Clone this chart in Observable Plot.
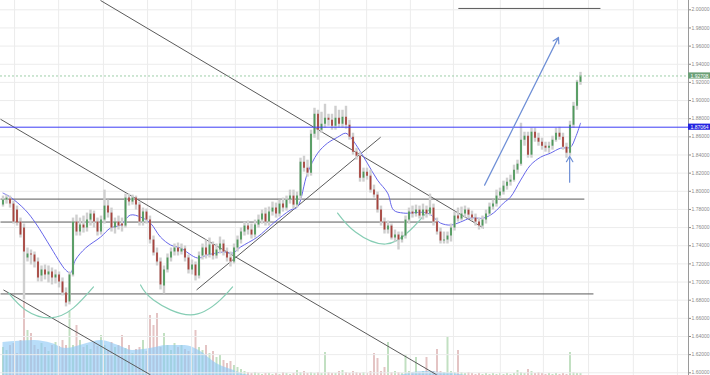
<!DOCTYPE html>
<html><head><meta charset="utf-8">
<script src="https://cdn.jsdelivr.net/npm/d3@7"></script>
<script src="https://cdn.jsdelivr.net/npm/@observablehq/plot@0.6"></script>
<style>
body{margin:0;background:#fff;}
#chart{position:relative;width:710px;height:375px;overflow:hidden;background:#fff;}
#chart svg{position:absolute;left:0;top:0;}
</style></head><body><div id="chart"></div>
<script>
// ---- candle data (one entry per bar) ----
const open = [
1.7848,1.7903,1.7914,1.7859,1.7793,1.7661,1.7595,1.7265,1.7309,1.7298,
1.7221,1.7067,1.7133,1.7078,1.7111,1.7045,1.7078,1.7001,1.6880,1.6781,
1.7078,1.7661,1.7551,1.7628,1.7595,1.7683,1.7749,1.7661,1.7551,1.7683,
1.7837,1.7760,1.7595,1.7661,1.7639,1.7617,1.7925,1.7881,1.7925,1.7848,
1.7661,1.7771,1.7683,1.7463,1.7320,1.7221,1.6957,1.7133,1.7265,1.7331,
1.7375,1.7331,1.7364,1.7265,1.7133,1.7188,1.7067,1.7287,1.7375,1.7298,
1.7408,1.7287,1.7353,1.7419,1.7331,1.7265,1.7221,1.7375,1.7463,1.7551,
1.7617,1.7573,1.7518,1.7628,1.7683,1.7749,1.7661,1.7771,1.7815,1.7749,
1.7859,1.7815,1.7903,1.7947,1.7848,1.7947,1.8321,1.8255,1.8200,1.8629,
1.8849,1.8673,1.8739,1.8805,1.8783,1.8717,1.8805,1.8739,1.8816,1.8728,
1.8596,1.8431,1.8387,1.8145,1.8211,1.8167,1.8013,1.7958,1.7793,1.7661,
1.7573,1.7617,1.7485,1.7518,1.7463,1.7507,1.7683,1.7771,1.7749,1.7793,
1.7727,1.7793,1.7749,1.7815,1.7661,1.7551,1.7452,1.7463,1.7507,1.7595,
1.7727,1.7694,1.7749,1.7793,1.7738,1.7705,1.7661,1.7617,1.7683,1.7749,
1.7826,1.7859,1.7947,1.7991,1.8057,1.8101,1.8123,1.8233,1.8299,1.8563,
1.8607,1.8398,1.8651,1.8585,1.8541,1.8497,1.8475,1.8497,1.8563,1.8640,
1.8596,1.8486,1.8420,1.8728,1.8937,1.9201];
const high = [
1.7947,1.7958,1.7947,1.7892,1.7837,1.7705,1.7639,1.7375,1.7353,1.7331,
1.7265,1.7177,1.7188,1.7177,1.7155,1.7133,1.7111,1.7045,1.6935,1.7111,
1.7705,1.7738,1.7705,1.7727,1.7760,1.7793,1.7782,1.7705,1.7727,1.8013,
1.7903,1.7815,1.7705,1.7727,1.7705,1.7969,1.7969,1.7958,1.7947,1.7881,
1.7815,1.7804,1.7727,1.7507,1.7375,1.7265,1.7177,1.7309,1.7375,1.7419,
1.7430,1.7419,1.7397,1.7298,1.7243,1.7221,1.7331,1.7419,1.7463,1.7485,
1.7441,1.7419,1.7496,1.7463,1.7375,1.7331,1.7419,1.7507,1.7595,1.7661,
1.7672,1.7639,1.7683,1.7738,1.7793,1.7815,1.7826,1.7881,1.7870,1.7903,
1.7925,1.7947,1.8013,1.8013,1.7991,1.8365,1.8387,1.8343,1.8673,1.8915,
1.8893,1.8871,1.8959,1.8849,1.8849,1.8937,1.8893,1.8893,1.8937,1.8783,
1.8640,1.8475,1.8431,1.8255,1.8255,1.8233,1.8068,1.7991,1.7837,1.7705,
1.7672,1.7639,1.7573,1.7551,1.7551,1.7727,1.7815,1.7837,1.7848,1.7837,
1.7859,1.7837,1.7969,1.7859,1.7705,1.7595,1.7551,1.7551,1.7639,1.7771,
1.7815,1.7826,1.7837,1.7815,1.7782,1.7749,1.7705,1.7727,1.7793,1.7870,
1.7903,1.8013,1.8035,1.8112,1.8145,1.8178,1.8288,1.8343,1.8750,1.8651,
1.8651,1.8695,1.8695,1.8640,1.8585,1.8541,1.8541,1.8607,1.8695,1.8706,
1.8640,1.8530,1.8772,1.8981,1.9223,1.9311];
const low = [
1.7826,1.7859,1.7815,1.7639,1.7617,1.7485,1.6803,1.7221,1.7188,1.7155,
1.7001,1.7001,1.7023,1.6990,1.6968,1.6979,1.6935,1.6847,1.6726,1.6748,
1.7056,1.7507,1.7507,1.7540,1.7551,1.7617,1.7595,1.7507,1.7518,1.7639,
1.7705,1.7551,1.7529,1.7573,1.7551,1.7595,1.7837,1.7848,1.7793,1.7617,
1.7617,1.7639,1.7419,1.7287,1.7177,1.6913,1.6869,1.7100,1.7221,1.7287,
1.7287,1.7298,1.7221,1.7089,1.7078,1.7012,1.7034,1.7243,1.7254,1.7265,
1.7243,1.7254,1.7309,1.7287,1.7221,1.7166,1.7199,1.7331,1.7419,1.7507,
1.7518,1.7474,1.7485,1.7595,1.7639,1.7617,1.7617,1.7727,1.7705,1.7716,
1.7771,1.7782,1.7859,1.7804,1.7815,1.7903,1.8211,1.8156,1.8167,1.8585,
1.8563,1.8640,1.8695,1.8717,1.8673,1.8673,1.8695,1.8695,1.8684,1.8563,
1.8398,1.8343,1.8101,1.8101,1.8123,1.7980,1.7925,1.7760,1.7617,1.7529,
1.7529,1.7463,1.7441,1.7353,1.7430,1.7474,1.7639,1.7705,1.7716,1.7694,
1.7683,1.7705,1.7727,1.7617,1.7518,1.7419,1.7419,1.7419,1.7441,1.7562,
1.7661,1.7672,1.7705,1.7694,1.7672,1.7617,1.7573,1.7584,1.7639,1.7727,
1.7793,1.7826,1.7914,1.7958,1.8013,1.8057,1.8101,1.8189,1.8277,1.8497,
1.8365,1.8365,1.8541,1.8497,1.8453,1.8431,1.8420,1.8453,1.8541,1.8563,
1.8453,1.8365,1.8387,1.8695,1.8893,1.9168];
const close = [
1.7903,1.7925,1.7859,1.7661,1.7650,1.7518,1.7331,1.7309,1.7298,1.7221,
1.7045,1.7133,1.7078,1.7111,1.7045,1.7078,1.7001,1.6880,1.6770,1.7078,
1.7661,1.7551,1.7628,1.7595,1.7683,1.7749,1.7661,1.7551,1.7683,1.7837,
1.7760,1.7595,1.7661,1.7617,1.7617,1.7925,1.7881,1.7925,1.7848,1.7661,
1.7771,1.7683,1.7463,1.7320,1.7221,1.6968,1.7133,1.7265,1.7331,1.7375,
1.7331,1.7364,1.7265,1.7133,1.7188,1.7067,1.7287,1.7375,1.7298,1.7408,
1.7287,1.7353,1.7419,1.7331,1.7265,1.7221,1.7375,1.7463,1.7551,1.7617,
1.7573,1.7518,1.7628,1.7683,1.7749,1.7661,1.7771,1.7815,1.7749,1.7859,
1.7815,1.7903,1.7947,1.7848,1.7947,1.8321,1.8255,1.8200,1.8629,1.8849,
1.8673,1.8739,1.8805,1.8783,1.8717,1.8805,1.8739,1.8816,1.8728,1.8596,
1.8431,1.8387,1.8145,1.8211,1.8167,1.8013,1.7958,1.7793,1.7661,1.7573,
1.7617,1.7485,1.7518,1.7463,1.7507,1.7683,1.7771,1.7749,1.7793,1.7727,
1.7793,1.7749,1.7815,1.7661,1.7551,1.7452,1.7463,1.7507,1.7595,1.7727,
1.7694,1.7749,1.7793,1.7738,1.7705,1.7661,1.7617,1.7683,1.7749,1.7826,
1.7859,1.7947,1.7991,1.8057,1.8101,1.8123,1.8233,1.8299,1.8563,1.8607,
1.8398,1.8651,1.8585,1.8541,1.8497,1.8475,1.8497,1.8563,1.8640,1.8596,
1.8486,1.8420,1.8728,1.8937,1.9201,1.92708];
const volume = [
28,25,30,32,22,35,75,45,42,30, 26,32,28,24,30,33,29,35,30,64,
30,50,35,28,30,26,32,29,40,30, 25,33,28,30,40,27,30,22,26,28,
35,24,60,50,62,28,42,30,25,32, 28,30,26,24,22,45,28,25,30,22,
24,18,20,15,12,14,10,8,6,
4,3,2,3,2,1,2, 2,1,2,1,3,2,1,2, 5, 3,4,2,3,2,3,2, 23, 3,2,2,4, 5,
3,2,4,3,2,3,2,4, 22,17,4,8,33,3,4,3,2, 20,4,3,18,3,4,18,3,4,
26,4,3,39,4,3,25, 3,2,3,2,1,2,1,2,1,2,1,2,1,2,1,2,
5,3,2,6,4,2,3, 2,1,2,1,2,1,2,1, 23,3,2,2];
// volume average band
const volMaIdx = [0,9,14,18,24,28,33,37,42,47,52,56,61,66,69,72,110,113,117,121,125,129,133,166];
const volMaVal = [33,35,32,27,32,35,30,25,27,30,30,25,12,5,1,0,0,0,3,4,3,2,0,0];
// moving average
const maIdx = [0,2.1,6.4,9.3,13.6,16.4,17.9,19.3,20.7,23.6,27.9,30.7,33.6,36.4,39.3,42.1,45,47.9,50.7,55.6,58.4,63,65.6,67.9,72.7,77.3,82.1,84.1,87,89.9,92.7,95.6,97.9,99.3,101.3,104.1,107,109.9,111.6,114.4,121.3,125,127.9,130.7,133.6,137.3,140.1,143,145,147.9,150.7,153.6,156.4,159.3,162.1,163.6,165];
const maVal = [1.7980,1.7936,1.7793,1.7650,1.7386,1.7210,1.7133,1.7100,1.7243,1.7375,1.7496,1.7595,1.7628,1.7738,1.7716,1.7650,1.7496,1.7408,1.7375,1.7265,1.7298,1.7331,1.7320,1.7386,1.7496,1.7650,1.7793,1.7826,1.8200,1.8420,1.8530,1.8596,1.8640,1.8596,1.8486,1.8310,1.8123,1.7980,1.7793,1.7760,1.7760,1.7650,1.7628,1.7661,1.7705,1.7705,1.7760,1.7870,1.7936,1.8123,1.8288,1.8376,1.8420,1.8475,1.8486,1.8596,1.8750];
// vertical time grid positions (bar index)
const gridIdx = [3.3,15.9,28.7,41.3,53.9,66.4,78.4,90.4,103.9,116.4,128.7,142.1,154.4,167.3,180.1,192.7];
const yTicks = d3.range(0, 21).map(k => +(1.60 + k * 0.02).toFixed(2));
// drawn annotations (bar index, price)
const trendX1 = [27.86, -0.71, 0.14, 55.3];
const trendY1 = [2.0103, 1.8794, 1.6913, 1.6913];
const trendX2 = [137.3, 123.9, 42.1, 107.9];
const trendY2 = [1.7595, 1.5978, 1.5978, 1.8596];
const levelY = [1.7914, 1.7661, 1.6869, 2.0015];
const levelX1 = [-0.71, -0.71, -0.71, 130.1];
const levelX2 = [166.1, 124.1, 168.7, 170.7];
const arrowX1 = [137.6, 161.9], arrowY1 = [1.8068, 1.8101];
const arrowX2 = [158.7, 161.9], arrowY2 = [1.9696, 1.8387];
const arcId = [1,1,1,1,1, 2,2,2,2,2, 3,3,3,3,3];
const arcX = [1.57,6.43,13.57,20.14,25.86, 39.3,43,53.6,62.1,65.6, 95.6,100.7,109.3,116.4,121.6];
const arcY = [1.6880,1.6693,1.6605,1.6715,1.6946, 1.6968,1.6803,1.6638,1.6803,1.6946, 1.7760,1.7551,1.7419,1.7573,1.7793];
const levelBlue = 1.87064;
const lastPrice = 1.92708;

// ---- build tables ----
const candles = open.map((o, i) => ({i, o, h: high[i], l: low[i], c: close[i], v: volume[i], up: close[i] >= o}));
const volMa = volMaIdx.map((x, k) => ({x, y: volMaVal[k]}));
const ma = maIdx.map((x, k) => ({x, y: maVal[k]}));
const trends = trendX1.map((x, k) => ({x1: x, y1: trendY1[k], x2: trendX2[k], y2: trendY2[k]}));
const levels = levelY.map((y, k) => ({y, x1: levelX1[k], x2: levelX2[k]}));
const arrows = arrowX1.map((x, k) => ({x1: x, y1: arrowY1[k], x2: arrowX2[k], y2: arrowY2[k]}));
const arcs = arcX.map((x, k) => ({id: arcId[k], x, y: arcY[k]}));
const badges = [{v: lastPrice, fill: "#6b9f76"}, {v: levelBlue, fill: "#2323e0"}];

const W = 710, H = 375;
const xDomain = [-0.714, 195.857];
const xEnd = xDomain[1];
const fmt = d3.format(".5f");
const common = {width: W, height: H, marginLeft: 0, marginRight: 22, marginTop: 0, marginBottom: 0};

const volPlot = Plot.plot({
  ...common,
  x: {domain: xDomain, axis: null},
  y: {domain: [0, 375], axis: null},
  marks: [
    Plot.ruleX(candles, {x: "i", y1: 0, y2: "v", stroke: d => d.up ? "#c2e0c2" : "#e4c4c4", strokeWidth: 2}),
    Plot.areaY(volMa, {x: "x", y: "y", curve: "monotone-x", fill: "#8cc8f5", fillOpacity: 0.62})
  ]
});

const mainPlot = Plot.plot({
  ...common,
  style: {background: "transparent", fontFamily: "'Liberation Sans', Arial, sans-serif", fontSize: "5px", color: "#8a8a8a", overflow: "visible"},
  x: {domain: xDomain, axis: null},
  y: {domain: [1.59702, 2.01025], axis: "right", ticks: yTicks, tickFormat: fmt, tickSize: 2, tickPadding: 1, label: null},
  marks: [
    Plot.ruleY(yTicks, {stroke: "#ececec"}),
    Plot.ruleX(gridIdx, {stroke: "#ececec"}),
    Plot.link(levels, {x1: "x1", x2: "x2", y1: "y", y2: "y", stroke: "#5a5a5a", strokeWidth: 1}),
    Plot.link(trends, {x1: "x1", y1: "y1", x2: "x2", y2: "y2", stroke: "#5a5a5a", strokeWidth: 1}),
    Plot.line(arcs, {x: "x", y: "y", z: "id", curve: "natural", stroke: "#86cdb4", strokeWidth: 1.2}),
    Plot.line(ma, {x: "x", y: "y", curve: "catmull-rom", stroke: "#6666ea", strokeWidth: 1}),
    Plot.ruleX(candles, {x: "i", y1: "l", y2: "h", stroke: "#cfcfcf", strokeWidth: 2.4}),
    Plot.ruleX(candles, {x: "i", y1: "o", y2: "c", stroke: d => d.up ? "#4f9a5c" : "#a8443e", strokeWidth: 1.8}),
    Plot.ruleY([levelBlue], {stroke: "#3c3cf5", strokeWidth: 1}),
    Plot.ruleY([lastPrice], {stroke: "#9dcfa9", strokeDasharray: "2,2", strokeWidth: 1}),
    Plot.arrow(arrows, {x1: "x1", y1: "y1", x2: "x2", y2: "y2", stroke: "#6e8fd6", strokeWidth: 1.2, headLength: 8}),
    Plot.ruleX([xEnd], {stroke: "#9a9a9a"}),
    Plot.rect(badges, {x1: xEnd, x2: xEnd + 6.3, y1: d => d.v - 0.0034, y2: d => d.v + 0.0034, fill: "fill"}),
    Plot.text(badges, {x: xEnd, y: "v", text: d => fmt(d.v), dx: 2, textAnchor: "start", fill: "white", fontSize: 5})
  ]
});

const el = document.getElementById("chart");
el.appendChild(volPlot);
el.appendChild(mainPlot);
mainPlot.style.background = "transparent";
</script></body></html>
